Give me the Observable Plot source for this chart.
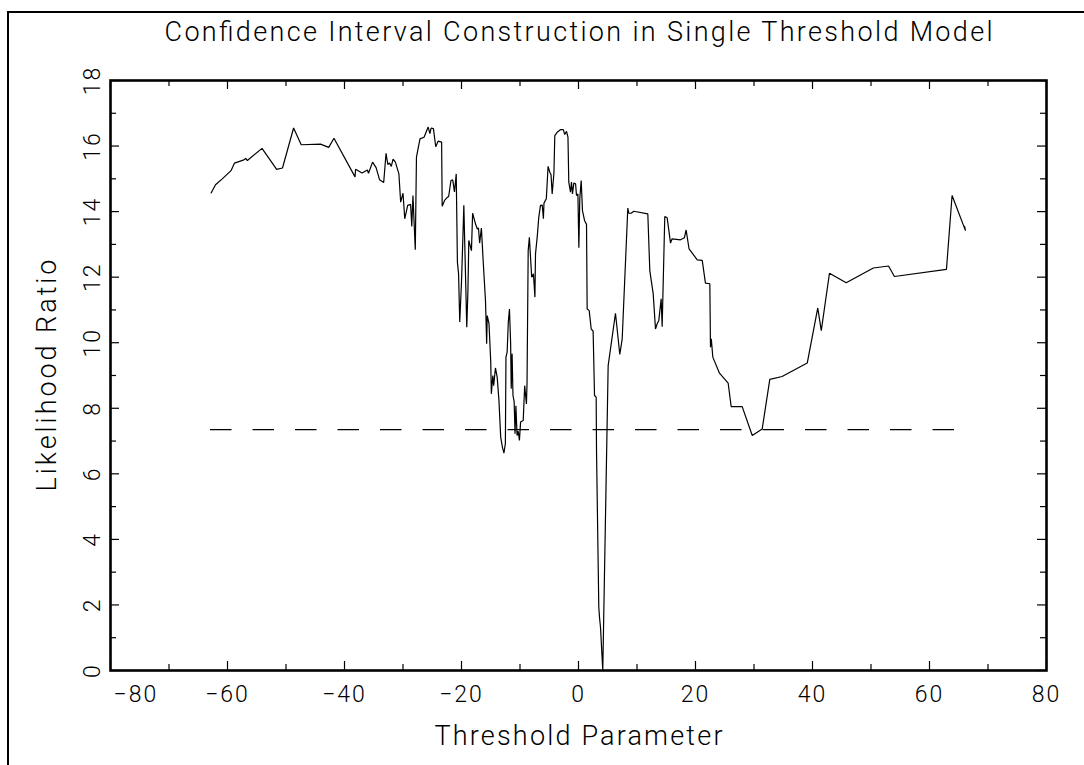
<!DOCTYPE html>
<html><head><meta charset="utf-8">
<script src="https://cdn.jsdelivr.net/npm/d3@7"></script>
<script src="https://cdn.jsdelivr.net/npm/@observablehq/plot@0.6"></script>
<style>
html,body{margin:0;padding:0;background:#fff;overflow:hidden;}
#wrap{position:relative;width:1084px;height:765px;overflow:hidden;}
#border{position:absolute;left:7px;top:11px;width:2000px;height:2000px;border:2px solid #000;pointer-events:none;}
svg{display:block;}
</style></head><body><div id="wrap"><div id="chart"></div><div id="border"></div></div>
<script>
// ---- data ----
const thresholds = [
-62.8,-62.05,-60.9,-59.4,-58.8,-57.2,-56.9,-56.6,-54.1,-51.6,-50.6,-48.7,-47.4,-44.1,-42.7,-41.8,
-38.2,-38.1,-37.0,-36.1,-35.9,-35.2,-34.6,-34.0,-33.3,-32.9,-32.6,-32.3,-32.0,-31.7,-31.3,-30.7,
-30.4,-30.0,-29.7,-29.2,-28.7,-28.5,-28.3,-27.9,-27.7,-27.1,-26.4,-25.7,-25.4,-25.2,-24.8,-24.4,
-24.0,-23.4,-23.3,-22.9,-22.5,-22.2,-21.8,-21.5,-21.2,-20.9,-20.7,-20.5,-20.3,-20.0,-19.7,-19.6,
-19.1,-18.9,-18.75,-18.3,-18.1,-17.6,-17.3,-17.1,-16.9,-16.6,-16.3,-15.9,-15.7,-15.6,-15.3,-15.0,
-14.9,-14.65,-14.5,-14.2,-13.9,-13.6,-13.3,-13.0,-12.75,-12.5,-12.4,-12.2,-12.0,-11.8,-11.6,-11.5,
-11.35,-11.2,-11.0,-10.85,-10.7,-10.5,-10.3,-10.1,-9.9,-9.45,-9.2,-8.9,-8.8,-8.6,-8.4,-8.0,
-7.7,-7.45,-7.35,-7.06,-6.8,-6.5,-6.2,-6.0,-5.9,-5.5,-5.2,-4.9,-4.7,-4.5,-4.2,-4.05,
-3.65,-3.1,-2.6,-2.35,-2.05,-1.8,-1.66,-1.37,-1.2,-1.03,-0.8,-0.5,-0.34,-0.1,0.06,0.22,
0.46,0.68,1.03,1.37,1.48,1.83,2.17,2.5,2.74,3.02,3.08,3.47,3.6,3.76,4.15,5.07,
6.32,7.06,7.47,8.43,8.6,9.0,9.45,11.85,12.19,12.77,13.16,13.45,13.73,14.13,14.3,14.75,
15.16,15.73,16.0,17.44,18.1,18.4,18.9,20.3,21.15,21.7,22.45,22.56,22.7,22.96,24.1,25.58,
26.1,27.98,29.7,31.4,32.7,34.8,39.1,40.9,41.5,42.9,45.76,50.4,53.0,54.0,62.9,63.86,
66.15,66.0
];
const likelihoodRatio = [
14.57,14.82,15.0,15.25,15.48,15.58,15.62,15.56,15.93,15.29,15.33,16.55,16.04,16.06,15.96,16.24,
15.06,15.29,15.18,15.27,15.17,15.51,15.34,14.97,14.89,15.78,15.44,15.48,15.38,15.6,15.51,15.15,
14.29,14.56,13.78,14.19,14.22,13.55,14.49,12.84,15.66,16.22,16.27,16.58,16.38,16.55,16.53,15.98,
16.15,16.12,14.16,14.34,14.42,14.46,14.95,14.97,14.6,15.15,12.46,12.1,10.63,11.85,13.58,14.19,
10.47,11.59,13.12,12.81,13.95,13.62,13.47,13.5,13.04,13.5,12.51,11.29,9.97,10.83,10.58,9.41,
8.44,9.0,8.69,9.23,8.95,8.24,7.12,6.81,6.63,6.92,9.56,9.71,10.63,11.03,9.97,8.6,
9.66,8.39,8.2,7.22,8.08,7.17,7.3,7.02,7.58,7.63,8.69,8.13,8.75,12.81,13.22,12.0,
12.1,11.39,12.71,13.22,13.81,14.19,14.2,13.78,14.26,14.39,15.38,15.2,15.13,14.54,15.18,16.32,
16.42,16.5,16.5,16.35,16.45,16.27,14.9,14.59,14.9,14.54,14.87,14.85,14.49,14.54,12.9,14.39,
14.95,14.03,13.73,13.61,11.03,10.98,10.42,10.35,8.39,8.34,6.71,1.93,1.6,1.32,0.0,9.3,
10.9,9.64,10.12,14.11,13.95,13.95,14.01,13.93,12.2,11.49,10.42,10.58,10.68,11.34,10.49,13.85,
13.81,13.04,13.17,13.14,13.2,13.44,12.86,12.53,12.51,11.82,11.8,9.86,10.12,9.56,9.07,8.77,
8.05,8.05,7.17,7.37,8.88,8.97,9.38,11.06,10.37,12.12,11.83,12.28,12.34,12.02,12.24,14.49,
13.42,13.55
];
const criticalValue = 7.35;
const criticalRange = [-62.9, 64.4];
const xTickLabels = [-80, -60, -40, -20, 0, 20, 40, 60, 80];
const xMinorTicks = [-70, -50, -30, -10, 10, 30, 50, 70];
const yTickLabels = [0, 2, 4, 6, 8, 10, 12, 14, 16, 18];
const yMinorTicks = [1, 3, 5, 7, 9, 11, 13, 15, 17];
const title = "Confidence Interval Construction in Single Threshold Model";
const xLabel = "Threshold Parameter";
const yLabel = "Likelihood Ratio";

const curve = thresholds.map((x, i) => ({x, y: likelihoodRatio[i]}));

const W = 1084, H = 765, mL = 110, mR = 38, mT = 80, mB = 95;
const pw = W - mL - mR, ph = H - mT - mB;
const fmt = d => (d < 0 ? "\u2212" + Math.abs(d) : String(d));
const font = "Roboto, 'DejaVu Sans', sans-serif";
const txt = {fill: "black", fontWeight: 300, lineAnchor: "middle", textAnchor: "middle"};
const tick = {stroke: "black", strokeWidth: 1.2};

const chart = Plot.plot({
  width: W, height: H,
  marginLeft: mL, marginRight: mR, marginTop: mT, marginBottom: mB,
  x: {domain: [-80, 80], axis: null},
  y: {domain: [0, 18], axis: null},
  style: {fontFamily: font, background: "white", color: "black", letterSpacing: "2px"},
  marks: [
    Plot.ruleY([criticalValue], {y: d => d, x1: criticalRange[0], x2: criticalRange[1], stroke: "black", strokeWidth: 1.2, strokeDasharray: "21.5,21"}),
    Plot.line(curve, {x: "x", y: "y", stroke: "black", strokeWidth: 1.2, strokeLinejoin: "miter"}),
    Plot.frame({stroke: "black", strokeWidth: 2.6}),
    Plot.ruleX(xTickLabels, {...tick, x: d => d, insetTop: ph - 9}),
    Plot.ruleX(xMinorTicks, {...tick, x: d => d, insetTop: ph - 6}),
    Plot.ruleX(xTickLabels, {...tick, x: d => d, insetBottom: ph - 9}),
    Plot.ruleX(xMinorTicks, {...tick, x: d => d, insetBottom: ph - 6}),
    Plot.ruleY(yTickLabels, {...tick, y: d => d, insetRight: pw - 9}),
    Plot.ruleY(yMinorTicks, {...tick, y: d => d, insetRight: pw - 6}),
    Plot.ruleY(yTickLabels, {...tick, y: d => d, insetLeft: pw - 9}),
    Plot.ruleY(yMinorTicks, {...tick, y: d => d, insetLeft: pw - 6}),
    // first x label is kept inside the frame, the others are centred on their ticks
    Plot.text(xTickLabels.slice(0, 1), {...txt, textAnchor: "start", x: d => d, text: fmt, frameAnchor: "bottom", dx: 3, dy: 24, fontSize: 23}),
    Plot.text(xTickLabels.slice(1), {...txt, x: d => d, text: fmt, frameAnchor: "bottom", dy: 24, fontSize: 23}),
    Plot.text(yTickLabels, {...txt, y: d => d, text: fmt, frameAnchor: "left", dx: -18, rotate: -90, fontSize: 23}),
    Plot.text([title], {...txt, text: d => d, frameAnchor: "top", dy: -48, fontSize: 27}),
    Plot.text([xLabel], {...txt, text: d => d, frameAnchor: "bottom", dy: 66, fontSize: 27}),
    Plot.text([yLabel], {...txt, text: d => d, frameAnchor: "left", dx: -63, rotate: -90, fontSize: 27})
  ]
});
document.getElementById("chart").appendChild(chart);

// stretch the label spacing to the widths of the reference's stroke font
const fit = {[title]: 828, [xLabel]: 288, [yLabel]: 232};
d3.select(chart).selectAll("text").each(function () {
  const t = this.textContent;
  if (fit[t]) { this.setAttribute("textLength", fit[t]); this.setAttribute("lengthAdjust", "spacing"); this.style.letterSpacing = "0px"; }
});
</script>
</body></html>
